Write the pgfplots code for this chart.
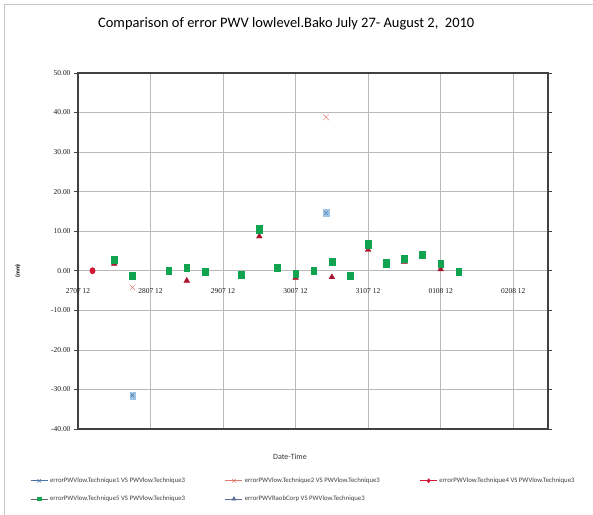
\documentclass[border=0pt]{standalone}
\usepackage{fontspec}
\setmainfont{Carlito}
\newfontfamily\tickfont{Liberation Serif}
\usepackage{pgfplots}
\pgfplotsset{compat=1.18}

\definecolor{sqgreen}{RGB}{16,163,80}
\definecolor{trired}{RGB}{168,22,48}
\definecolor{dotred}{RGB}{208,22,52}
\definecolor{xsalmon}{RGB}{224,122,112}
\definecolor{boxblue}{RGB}{158,198,228}
\definecolor{xblue}{RGB}{72,118,170}
\definecolor{legblue}{RGB}{88,110,150}
\definecolor{framegray}{RGB}{64,64,64}

\begin{document}
\begin{tikzpicture}[x=1bp,y=1bp]
\useasboundingbox (0,0) rectangle (593,515);
% outer chart frame
\draw[gray!45, line width=0.8bp] (4,0) -- (4,511) -- (593,511);
\begin{axis}[
  at={(78bp,86bp)}, anchor=south west,
  scale only axis, width=470bp, height=356bp,
  xmin=0, xmax=6.48, ymin=-40, ymax=50,
  xtick={0,1,2,3,4,5,6},
  xticklabels={2707 12, 2807 12, 2907 12, 3007 12, 3107 12, 0108 12, 0208 12},
  ytick={-40,-30,-20,-10,0,10,20,30,40,50},
  /pgf/number format/assume math mode=true,
  yticklabel style={/pgf/number format/.cd, fixed, fixed zerofill, precision=2},
  tick label style={font=\tickfont\fontsize{7.5}{8}\selectfont, text=black!90},
  xticklabel style={anchor=north, yshift=147.5bp},
  x tick style={draw=none},
  y tick style={framegray, line width=0.6bp},
  tick align=outside, major tick length=4bp,
  grid=major,
  major grid style={gray!55, line width=0.7bp},
  axis line style={framegray, line width=1.2bp},
  title={Comparison of error PWV lowlevel.Bako July 27- August 2,\ \ 2010},
  title style={at={(axis description cs:0.443,1.121)}, anchor=center, font=\fontsize{14.5}{16}\selectfont},
  xlabel={Date-Time},
  xlabel style={at={(axis description cs:0.451,-0.06)}, anchor=north, font=\fontsize{8}{9}\selectfont, text=black!80},
  ylabel={(mm)},
  ylabel style={at={(axis description cs:-0.128,0.444)}, anchor=center, font=\bfseries\fontsize{6}{7}\selectfont},
  legend columns=3,
  legend cell align=left,
  legend style={at={(axis description cs:-0.108,-0.125)}, anchor=north west, draw=none,
    font=\fontsize{6.8}{8}\selectfont, text=black!75,
    /tikz/every even column/.append style={column sep=38bp},
    row sep=8bp},
]
% RaobCorp comparison (drawn beneath the Technique5 squares)
\addplot[only marks, mark=triangle*, mark size=3.3bp, color=trired, forget plot] coordinates {
 (0.50,1.8) (1.50,-2.5) (2.50,8.7) (3.00,-1.8) (3.50,-1.6) (4.00,5.3) (4.50,2.2) (5.00,0.4)
};
% Technique5
\addplot[only marks, mark=square*, mark size=3.6bp, mark options={xscale=0.8}, color=sqgreen, forget plot] coordinates {
 (0.50,2.8) (0.75,-1.3) (1.25,0.1) (1.50,0.7) (1.75,-0.3) (2.25,-1.0) (2.50,10.5)
 (2.75,0.7) (3.00,-0.8) (3.25,0.0) (3.50,2.3) (3.75,-1.3) (4.00,6.7) (4.25,1.9)
 (4.50,3.0) (4.75,4.0) (5.00,1.8) (5.25,-0.2)
};
% Technique4
\addplot[only marks, mark=*, mark size=3.2bp, mark options={xscale=0.85}, color=dotred, forget plot] coordinates {
 (0.20,0.0)
};
% Technique1: pale box with an x on it
\addplot[only marks, mark=square*, mark size=3.6bp, mark options={xscale=0.75, draw=boxblue, fill=boxblue}, color=boxblue, forget plot] coordinates {
 (0.75,-31.5) (3.42,14.6)
};
\addplot[only marks, mark=x, mark size=2.6bp, color=xblue, forget plot] coordinates {
 (0.75,-31.5) (3.42,14.6)
};
% Technique2
\addplot[only marks, mark=x, mark size=4bp, color=xsalmon, forget plot] coordinates {
 (0.75,-4.2) (3.42,38.8)
};
% legend
\addlegendimage{color=xblue, line width=0.6bp, mark=x, mark size=2.5bp}
\addlegendentry{errorPWVlow.Technique1 VS PWVlow.Technique3}
\addlegendimage{color=xsalmon, line width=0.6bp, mark=x, mark size=2.5bp}
\addlegendentry{errorPWVlow.Technique2 VS PWVlow.Technique3}
\addlegendimage{color=dotred, line width=0.6bp, mark=diamond*, mark size=2bp}
\addlegendentry{errorPWVlow.Technique4 VS PWVlow.Technique3}
\addlegendimage{color=black!60, line width=0.6bp, mark=square*, mark size=1.6bp, mark options={fill=sqgreen, draw=sqgreen}}
\addlegendentry{errorPWVlow.Technique5 VS PWVlow.Technique3}
\addlegendimage{color=legblue, line width=0.6bp, mark=triangle*, mark size=2.2bp}
\addlegendentry{errorPWVRaobCorp VS PWVlow.Technique3}
\end{axis}
\end{tikzpicture}
\end{document}
